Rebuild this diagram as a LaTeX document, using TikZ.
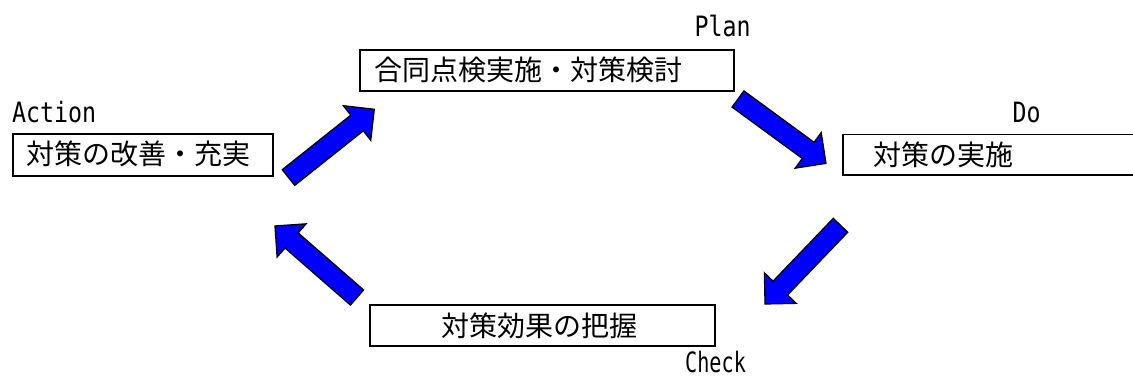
\documentclass[tikz,border=0pt]{standalone}
\usepackage{fontspec}
\newfontfamily\jpfont{Noto Sans CJK JP}
\newfontfamily\latfont[FakeStretch=0.83]{DejaVu Sans Mono}
\newfontfamily\latnarrow[FakeStretch=0.72]{DejaVu Sans Mono}
\tikzset{
  stepframe/.style={draw=black, line width=1.8pt, rectangle, inner sep=0pt, anchor=north west},
  openframe/.style={rectangle, inner sep=0pt, anchor=north west},
  frameline/.style={draw=black, line width=1.8pt},
  jptext/.style={font=\jpfont\fontsize{28}{30}\selectfont, inner sep=0pt, anchor=west, text height=24.6pt, text depth=3.4pt},
  lattext/.style={font=\latfont\fontsize{28}{30}\selectfont, inner sep=0pt, anchor=base west},
  bluearrow/.style={fill=blue, draw=black, line width=1.3pt, line join=miter},
}
\newcommand{\pdcaarrow}[4]{%
  \begin{scope}[shift={(#1,#2)}, rotate=#3]
    \draw[bluearrow] (0,-10) -- ({#4-22},-10) -- ({#4-22},-22) -- (#4,0) -- ({#4-22},22) -- ({#4-22},10) -- (0,10) -- cycle;
  \end{scope}}
\begin{document}
\begin{tikzpicture}[x=1pt,y=-1pt]
\useasboundingbox[fill=white] (0,0) rectangle (1133,378);

% boxes
\node[stepframe, minimum width=374pt, minimum height=41pt] (planbox) at (359,49) {};
\node[stepframe, minimum width=260pt, minimum height=42pt] (actbox) at (12,133) {};
\node[stepframe, minimum width=345pt, minimum height=41pt] (chkbox) at (369,304) {};
\node[openframe, minimum width=292pt, minimum height=40pt] (dobox) at (843,134.5) {};
\draw[frameline] (dobox.north east) -- (dobox.north west) -- (dobox.south west) -- (dobox.south east);

% box texts
\node[jptext] (plantext) at (374,70) {合同点検実施・対策検討};
\node[jptext] (acttext) at (26,154) {対策の改善・充実};
\node[jptext] (dotext) at (873,155) {対策の実施};
\node[jptext] (chktext) at (441,325.5) {対策効果の把握};

% PDCA labels
\node[lattext] (planlabel) at (694.5,36.5) {Plan};
\node[lattext] (actlabel) at (12,122) {Action};
\node[lattext] (dolabel) at (1012.5,122) {Do};
\node[lattext, font=\latnarrow\fontsize{28}{30}\selectfont] (chklabel) at (685,372) {Check};

% block arrows
\pdcaarrow{288.5}{177.5}{38.5}{109.6}
\pdcaarrow{738}{99}{-36.2}{109}
\pdcaarrow{840.5}{225.3}{226.2}{109}
\pdcaarrow{357}{297.5}{138.9}{108.8}
\end{tikzpicture}
\end{document}
